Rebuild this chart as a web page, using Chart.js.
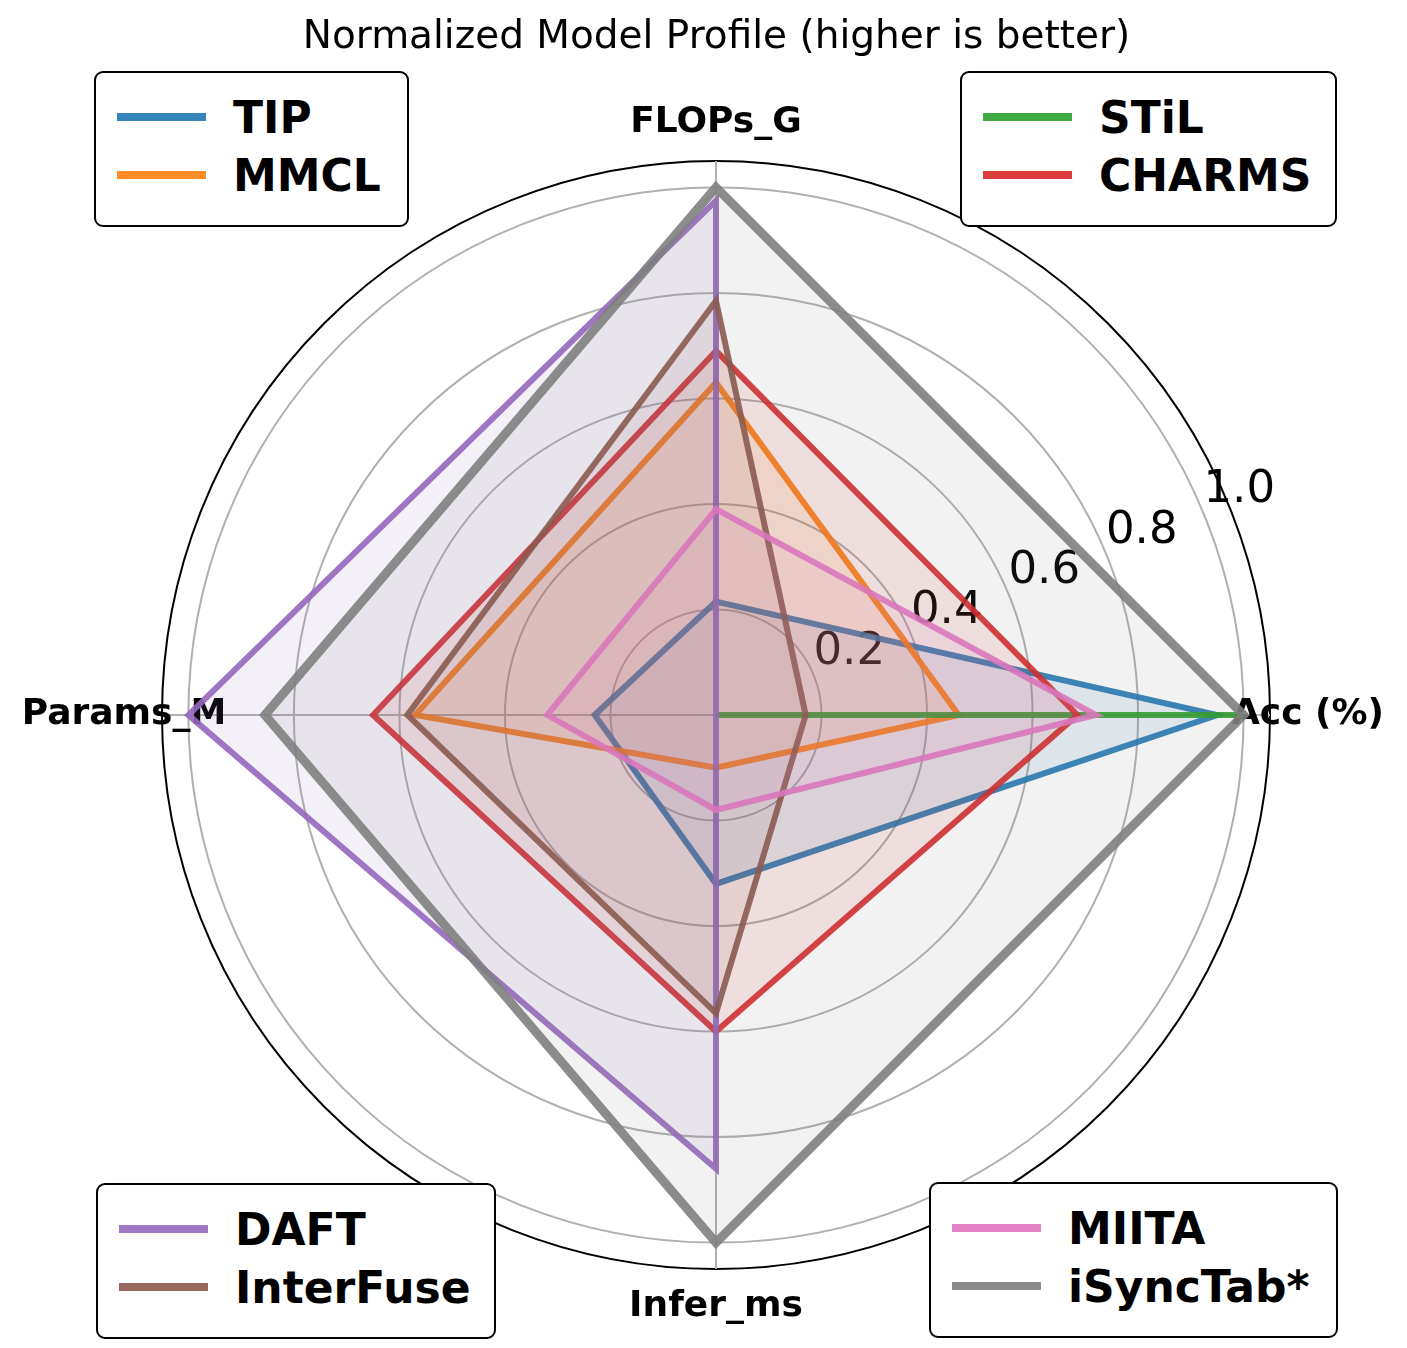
<!DOCTYPE html>
<html>
<head>
<meta charset="utf-8">
<title>Normalized Model Profile</title>
<script src="https://cdn.jsdelivr.net/npm/chart.js@4.4.1/dist/chart.umd.min.js"></script>
<style>
  html, body { margin: 0; padding: 0; background: #fff; }
  #wrap { position: relative; width: 1407px; height: 1348px; font-family: "DejaVu Sans", sans-serif; }
  #wrap canvas { position: absolute; left: 0; top: 0; }
  .legend { position: absolute; box-sizing: border-box; height: 156px; border: 2px solid #000;
            border-radius: 9px; background: #fff; padding: 15px 0 0 21px; }
  .legend .row { display: flex; align-items: center; height: 58px; font-weight: bold;
                 font-size: 44px; white-space: nowrap; color: #000; }
  .legend .swatch { width: 89px; height: 8px; margin-right: 27px; flex: none; }
  #legend-tl { left: 94px; top: 71px; width: 315px; }
  #legend-tr { left: 960px; top: 71px; width: 377px; }
  #legend-bl { left: 96px; top: 1183px; width: 400px; }
  #legend-br { left: 929px; top: 1182px; width: 409px; }
</style>
</head>
<body>
<div id="wrap">
  <canvas id="chart"></canvas>
  <div class="legend" id="legend-tl"></div>
  <div class="legend" id="legend-tr"></div>
  <div class="legend" id="legend-bl"></div>
  <div class="legend" id="legend-br"></div>
</div>
<script>
// axes go clockwise from the top
const axisLabels = ["FLOPs_G", "Acc (%)", "Infer_ms", "Params_M"];

const modelNames = ["TIP", "MMCL", "STiL", "CHARMS", "DAFT", "InterFuse", "MIITA", "iSyncTab*"];
const modelColors = ["#1f77b4", "#ff7f0e", "#2ca02c", "#d62728", "#9467bd", "#8c564b", "#e377c2", "#7f7f7f"];

// normalized scores, same order as axisLabels
const tipScores       = [0.215, 0.95, 0.32, 0.23];
const mmclScores      = [0.63, 0.46, 0.10, 0.57];
const stilScores      = [0, 1.0, 0, 0];
const charmsScores    = [0.69, 0.685, 0.60, 0.65];
const daftScores      = [0.975, 0, 0.86, 1.0];
const interfuseScores = [0.785, 0.17, 0.565, 0.585];
const miitaScores     = [0.39, 0.72, 0.18, 0.32];
const isynctabScores  = [1.0, 1.0, 1.0, 0.855];

const allScores = [tipScores, mmclScores, stilScores, charmsScores,
                   daftScores, interfuseScores, miitaScores, isynctabScores];

const tickValues = [0.2, 0.4, 0.6, 0.8, 1.0];
const tickLabels = ["0.2", "0.4", "0.6", "0.8", "1.0"];
const rMax = 1.05;

// which models go in which corner box
const legendGroups = [
  ["legend-tl", [0, 1]],
  ["legend-tr", [2, 3]],
  ["legend-bl", [4, 5]],
  ["legend-br", [6, 7]],
];

function withAlpha(hex, a) {
  const n = parseInt(hex.slice(1), 16);
  return `rgba(${n >> 16}, ${(n >> 8) & 255}, ${n & 255}, ${a})`;
}

const datasets = modelNames.map((name, i) => ({
  label: name,
  data: allScores[i],
  borderColor: withAlpha(modelColors[i], 0.9),
  backgroundColor: withAlpha(modelColors[i], 0.1),
  borderWidth: name === "iSyncTab*" ? 9 : 6,
  borderJoinStyle: "miter",
  fill: true,
  tension: 0,
  pointRadius: 0,
  pointHoverRadius: 0,
  order: modelNames.length - i, // later series on top
}));

// axis names and radial tick labels, drawn under the lines
const radarText = {
  id: "radarText",
  beforeDatasetsDraw(chart) {
    const r = chart.scales.r;
    const ctx = chart.ctx;
    ctx.save();
    ctx.fillStyle = "#000";
    ctx.font = 'bold 36px "DejaVu Sans"';
    ctx.textAlign = "center";
    ctx.textBaseline = "middle";
    axisLabels.forEach((lab, i) => {
      const p = r.getPointPosition(i, r.drawingArea + 38);
      ctx.fillText(lab, p.x, p.y);
    });
    ctx.font = '45px "DejaVu Sans"';
    ctx.textAlign = "left";
    ctx.textBaseline = "bottom";
    tickValues.forEach((v, k) => {
      const p = r.getPointPositionForValue(0.75, v); // 22.5 deg above the Acc axis
      ctx.fillText(tickLabels[k], p.x, p.y);
    });
    ctx.restore();
  }
};

new Chart(document.getElementById("chart"), {
  type: "radar",
  data: { labels: axisLabels, datasets },
  options: {
    responsive: true,
    maintainAspectRatio: false,
    animation: false,
    events: [],
    layout: { padding: { left: 162, right: 136, top: 0, bottom: 78 } },
    plugins: {
      legend: { display: false },
      tooltip: { enabled: false },
      title: {
        display: true,
        text: "Normalized Model Profile (higher is better)",
        color: "#000",
        font: { family: "DejaVu Sans", size: 39, weight: "normal" },
        padding: { top: 14, bottom: 99.8 },
      },
    },
    scales: {
      r: {
        min: 0,
        max: rMax,
        afterBuildTicks: (scale) => {
          scale.ticks = [0, ...tickValues, rMax].map(v => ({ value: v }));
        },
        ticks: { display: false },
        pointLabels: { display: false },
        grid: {
          circular: true,
          lineWidth: 2,
          color: (c) => (c.tick && c.tick.value > 1.001 ? "#000" : "#b0b0b0"),
        },
        angleLines: { color: "#b0b0b0", lineWidth: 2 },
      },
    },
  },
  plugins: [radarText],
});

legendGroups.forEach(([id, idx]) => {
  const box = document.getElementById(id);
  idx.forEach(i => {
    const row = document.createElement("div");
    row.className = "row";
    const sw = document.createElement("span");
    sw.className = "swatch";
    sw.style.background = withAlpha(modelColors[i], 0.9);
    row.appendChild(sw);
    row.appendChild(document.createTextNode(modelNames[i]));
    box.appendChild(row);
  });
});
</script>
</body>
</html>
